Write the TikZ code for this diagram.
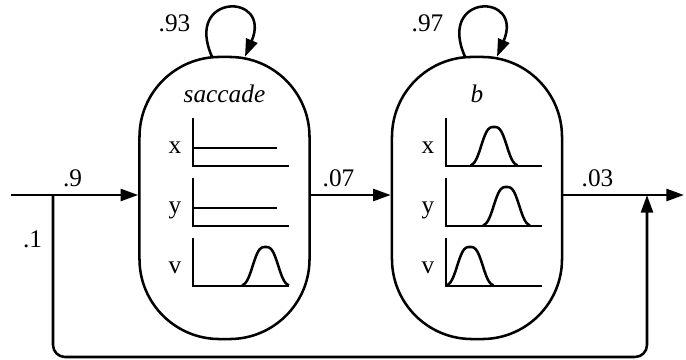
\documentclass[tikz,border=0pt]{standalone}
\usepackage{fontspec}
\setmainfont{Liberation Serif}
\usepackage{tikz}
\usetikzlibrary{arrows.meta}

\tikzset{
	state/.style={draw, rectangle, rounded corners=2cm, minimum width=4.25cm,
		minimum height=7.05cm, inner sep=0pt},
	arr/.style={-{Triangle[length=12.5pt,width=8.5pt]}},
	lbl/.style={inner sep=0pt},
}

% one bump of a feature density: centre x, axis y
\newcommand\densbump[2]{%
	\draw plot[smooth, domain=-23.5:23.5, samples=41]
	({#1+\x},{#2-39*exp(-(abs(\x)/14.7)^3)});}

\begin{document}
\begin{tikzpicture}[x=0.025cm, y=-0.025cm, line width=1.8pt,
	font=\fontsize{18}{21}\selectfont]
	\useasboundingbox (0,0) rectangle (686,360);
	
	\node[state] (sac) at (224.5,198) {};
	\node[state] (bst) at (477,198) {};
	
	\node[lbl, anchor=base] (sacname) at (224.5,103) {\textit{saccade}};
	\node[lbl, anchor=base] (bname) at (477,103) {\textit{b}};
	
	% axes of the x, y, v densities
	\foreach \ax/\nm in {193/sac, 446/bst} {
		\foreach \base/\lab in {166/x, 226/y, 286/v} {
			\draw (\ax,\base-48) |- (\ax+96,\base);
			\node[lbl, anchor=base] (\nm\lab) at (\ax-18,\base-12) {\lab};
		}
	}
	
	% saccade: flat x and y, bump in v
	\draw (193,148) -- (277,148);
	\draw (193,208) -- (277,208);
	\densbump{265.5}{286}
	
	% b: bumps in x, y and v
	\densbump{494}{166}
	\densbump{506.5}{226}
	\densbump{470}{286}
	
	% self transitions
	\path (sac.north) ++(-12.5,1) coordinate (sacL) ++(33,0) coordinate (sacR);
	\path (bst.north) ++(-12,1) coordinate (bstL) ++(32,0) coordinate (bstR);
	\draw[arr] (sacL) to[out=114, in=67, distance=1.75cm] (sacR);
	\draw[arr] (bstL) to[out=114, in=67, distance=1.75cm] (bstR);
	\node[lbl] (p93) at (174.5,23) {.93};
	\node[lbl] (p97) at (427.5,23) {.97};
	
	% entry, exit and bypass
	\coordinate (in) at (11,195);
	\coordinate (split) at (53,195);
	\coordinate (join) at (647,195);
	\coordinate (out) at (684,195);
	\coordinate (lowL) at (53,357);
	\coordinate (lowR) at (647,357);
	
	\draw[arr] (in) -- (in -| sac.west);
	\draw[arr] (sac.east |- in) -- (in -| bst.west);
	\draw[arr] (bst.east |- in) -- (out);
	\draw[arr, rounded corners=0.3cm] (split) -- (lowL) -- (lowR) -- (join);
	
	\node[lbl] (p9) at (72.5,178) {.9};
	\node[lbl] (p1) at (32.5,239) {.1};
	\node[lbl] (p07) at (338.5,178) {.07};
	\node[lbl] (p03) at (597.5,178) {.03};
\end{tikzpicture}
\end{document}
